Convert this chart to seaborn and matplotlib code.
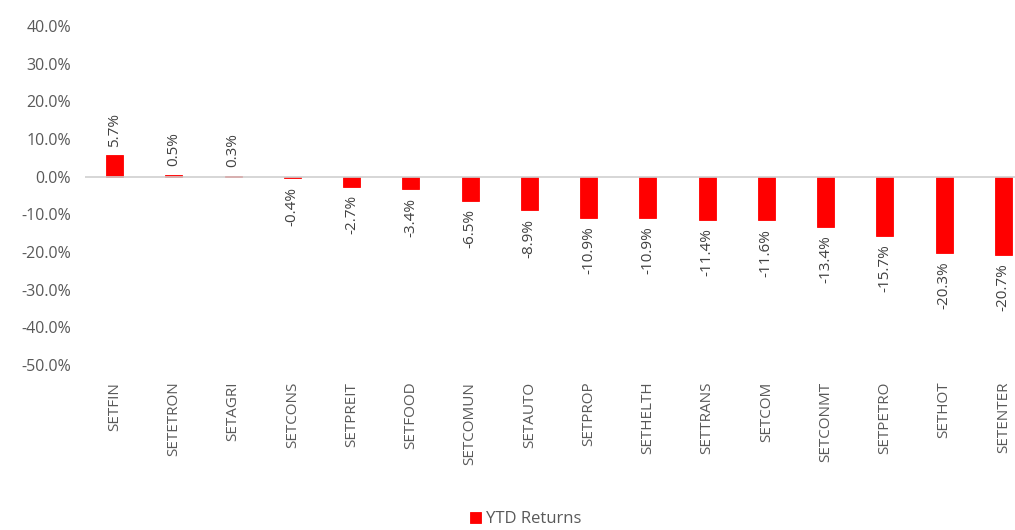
import pandas as pd
import matplotlib
matplotlib.use("Agg")
import matplotlib.pyplot as plt
import seaborn as sns

# Sector YTD returns (%)
sectors = ["SETFIN", "SETETRON", "SETAGRI", "SETCONS", "SETPREIT", "SETFOOD",
           "SETCOMUN", "SETAUTO", "SETPROP", "SETHELTH", "SETTRANS", "SETCOM",
           "SETCONMT", "SETPETRO", "SETHOT", "SETENTER"]
returns = [5.7, 0.5, 0.3, -0.4, -2.7, -3.4, -6.5, -8.9, -10.9, -10.9, -11.4,
           -11.6, -13.4, -15.7, -20.3, -20.7]
series_name = "YTD Returns"

df = pd.DataFrame({"Sector": sectors, "Return": returns})

sns.set_style("white")
plt.rcParams["font.family"] = ["Open Sans", "DejaVu Sans"]
grey = "#595959"

fig = plt.figure(figsize=(10.15, 5.3), dpi=100)
ax = fig.add_axes([85 / 1015, 1 - 365 / 530, 948 / 1015, 339 / 530])

sns.barplot(data=df, x="Sector", y="Return", color="#ff0000", width=0.29,
            saturation=1, ax=ax, label=series_name,
            edgecolor="#ff0000", linewidth=0.6)

ax.set_ylim(-50, 40)
ax.set_yticks(range(-50, 41, 10))
ax.set_yticklabels([f"{t:.1f}%" for t in range(-50, 41, 10)], color=grey, fontsize=11.5)
ax.set_xlim(-0.5, len(sectors) - 0.5)
ax.set_xlabel("")
ax.set_ylabel("")
ax.tick_params(axis="x", rotation=90, labelsize=11, labelcolor=grey, pad=12, length=0)
ax.tick_params(axis="y", length=0, pad=10)
ax.axhline(0, color="#d0d0d0", lw=1.2)
for s in ax.spines.values():
    s.set_visible(False)

ax.bar_label(ax.containers[0], labels=[f"{v:.1f}%" for v in returns],
             rotation=90, padding=6, fontsize=11, color="#404040")

leg = ax.legend(loc="center", bbox_to_anchor=(0.465, -0.455), frameon=False,
                fontsize=12, handlelength=0.7, handleheight=0.7, handletextpad=0.3)
for t in leg.get_texts():
    t.set_color(grey)

fig.savefig("out.png", dpi=100)
